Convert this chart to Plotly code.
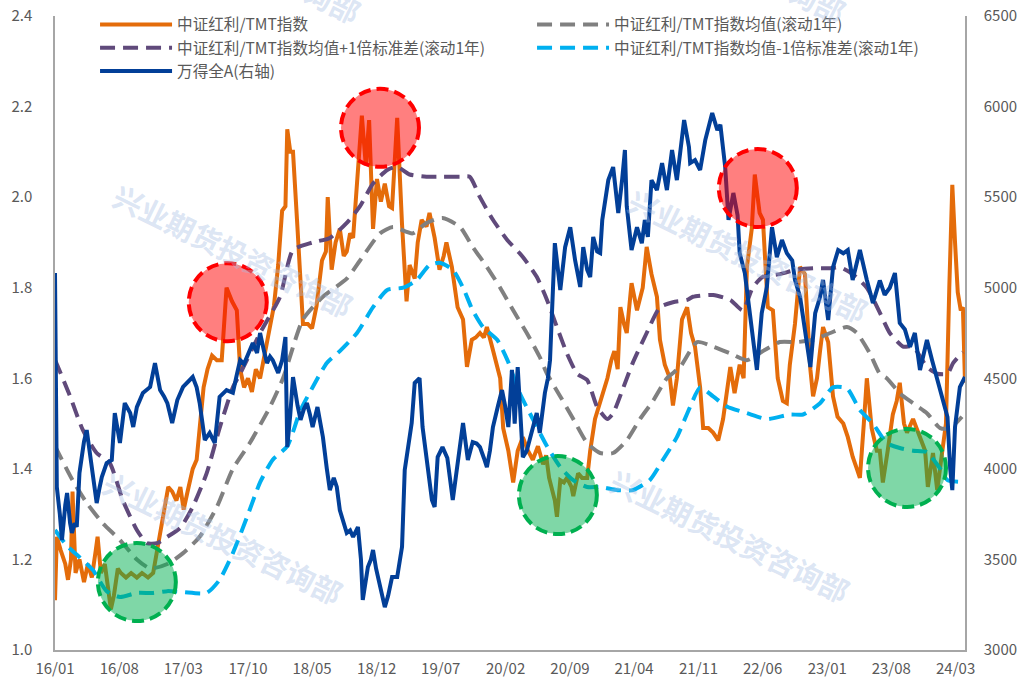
import plotly.graph_objects as go

# ---------------- data ----------------
ORANGE_DATES = ["2016-01-01","2016-01-07","2016-01-20","2016-02-04","2016-02-13","2016-02-23","2016-02-28","2016-03-09","2016-03-22","2016-04-06","2016-04-19","2016-05-02","2016-05-15","2016-05-21","2016-06-01","2016-06-14","2016-06-24","2016-07-04","2016-07-14","2016-07-27","2016-08-06","2016-08-23","2016-09-09","2016-09-28","2016-10-15","2016-11-04","2016-11-21","2016-12-04","2016-12-14","2016-12-27","2017-01-10","2017-01-23","2017-02-06","2017-02-19","2017-03-02","2017-03-15","2017-04-01","2017-04-14","2017-04-24","2017-05-07","2017-05-20","2017-06-04","2017-06-20","2017-07-06","2017-07-22","2017-08-09","2017-08-25","2017-09-05","2017-09-18","2017-10-01","2017-10-14","2017-10-27","2017-11-10","2017-11-26","2017-12-13","2017-12-26","2018-01-09","2018-01-22","2018-02-02","2018-02-08","2018-02-18","2018-02-27","2018-03-14","2018-03-24","2018-04-01","2018-04-17","2018-05-01","2018-05-16","2018-06-03","2018-06-16","2018-06-22","2018-07-05","2018-07-18","2018-08-01","2018-08-14","2018-08-24","2018-09-04","2018-09-14","2018-09-27","2018-10-13","2018-10-26","2018-11-06","2018-11-19","2018-12-02","2018-12-15","2018-12-28","2019-01-11","2019-01-21","2019-02-07","2019-02-23","2019-03-10","2019-03-20","2019-04-06","2019-04-16","2019-04-29","2019-05-15","2019-05-25","2019-06-11","2019-06-27","2019-07-11","2019-07-20","2019-08-07","2019-08-26","2019-09-13","2019-09-26","2019-10-12","2019-10-25","2019-11-08","2019-11-21","2019-12-01","2019-12-18","2020-01-04","2020-01-14","2020-01-24","2020-02-10","2020-02-26","2020-03-12","2020-03-29","2020-04-15","2020-05-01","2020-05-18","2020-06-04","2020-06-14","2020-06-24","2020-07-03","2020-07-13","2020-07-20","2020-07-31","2020-08-12","2020-08-22","2020-09-06","2020-09-12","2020-09-28","2020-10-11","2020-10-28","2020-11-07","2020-11-23","2020-12-10","2020-12-23","2021-01-03","2021-01-16","2021-01-26","2021-02-06","2021-02-15","2021-02-27","2021-03-08","2021-03-24","2021-04-11","2021-04-30","2021-05-13","2021-05-29","2021-06-16","2021-06-26","2021-07-12","2021-07-29","2021-08-08","2021-08-21","2021-09-07","2021-09-24","2021-10-07","2021-10-20","2021-10-31","2021-11-06","2021-11-16","2021-12-03","2021-12-19","2022-01-05","2022-01-21","2022-02-04","2022-02-14","2022-02-28","2022-03-17","2022-03-30","2022-04-10","2022-04-26","2022-05-06","2022-05-22","2022-06-02","2022-06-18","2022-07-05","2022-07-21","2022-08-07","2022-08-20","2022-08-30","2022-09-16","2022-10-03","2022-10-19","2022-11-06","2022-11-15","2022-11-28","2022-12-08","2022-12-18","2023-01-04","2023-01-20","2023-02-04","2023-02-23","2023-03-10","2023-03-26","2023-04-09","2023-04-19","2023-05-02","2023-05-12","2023-05-28","2023-06-14","2023-06-24","2023-07-04","2023-07-20","2023-08-06","2023-08-19","2023-08-29","2023-09-12","2023-09-22","2023-10-12","2023-10-25","2023-11-04","2023-11-21","2023-11-30","2023-12-17","2023-12-31","2024-01-16","2024-01-29","2024-02-09","2024-02-19","2024-02-28","2024-03-08","2024-03-18","2024-03-25","2024-04-01"]
ORANGE_VALUES = [1.11,1.25,1.22,1.19,1.155,1.20,1.35,1.17,1.20,1.15,1.19,1.16,1.22,1.25,1.17,1.19,1.14,1.09,1.12,1.18,1.17,1.16,1.17,1.16,1.17,1.16,1.17,1.22,1.26,1.30,1.36,1.35,1.33,1.36,1.31,1.35,1.40,1.42,1.50,1.58,1.62,1.65,1.64,1.64,1.80,1.77,1.75,1.62,1.58,1.60,1.57,1.62,1.60,1.66,1.72,1.76,1.85,1.97,1.98,2.15,2.10,2.10,1.93,1.80,1.72,1.72,1.71,1.76,1.86,1.88,2.00,1.84,1.90,1.93,1.87,1.88,1.92,1.91,2.04,2.18,2.07,2.17,1.93,2.04,1.99,2.03,1.98,1.976,2.175,1.94,1.77,1.85,1.82,1.90,1.95,1.935,1.965,1.91,1.84,1.87,1.90,1.846,1.757,1.73,1.625,1.685,1.69,1.70,1.69,1.713,1.67,1.62,1.60,1.49,1.44,1.37,1.44,1.47,1.44,1.42,1.45,1.41,1.43,1.38,1.353,1.33,1.294,1.375,1.37,1.38,1.36,1.34,1.39,1.38,1.38,1.44,1.51,1.55,1.58,1.60,1.64,1.66,1.62,1.757,1.72,1.70,1.81,1.75,1.80,1.89,1.83,1.78,1.685,1.63,1.60,1.54,1.60,1.73,1.757,1.70,1.67,1.60,1.58,1.49,1.49,1.48,1.463,1.51,1.58,1.625,1.567,1.63,1.60,1.846,1.93,2.05,1.965,1.95,1.757,1.75,1.60,1.55,1.545,1.63,1.72,1.846,1.83,1.62,1.56,1.60,1.66,1.713,1.68,1.56,1.515,1.50,1.47,1.427,1.40,1.38,1.50,1.60,1.49,1.44,1.44,1.37,1.44,1.52,1.55,1.59,1.50,1.48,1.51,1.49,1.47,1.44,1.36,1.435,1.353,1.435,1.50,1.80,2.027,1.90,1.79,1.75,1.757,1.59]

WINDA_DATES = ["2016-01-01","2016-01-07","2016-01-17","2016-01-24","2016-02-04","2016-02-10","2016-02-20","2016-02-26","2016-03-06","2016-03-13","2016-03-22","2016-04-06","2016-04-15","2016-04-25","2016-05-05","2016-05-18","2016-05-28","2016-06-04","2016-06-20","2016-07-07","2016-07-17","2016-07-27","2016-08-03","2016-08-19","2016-09-06","2016-09-16","2016-09-28","2016-10-18","2016-11-11","2016-11-27","2016-12-14","2016-12-27","2017-01-07","2017-01-23","2017-02-09","2017-02-28","2017-03-15","2017-04-01","2017-04-14","2017-04-24","2017-05-11","2017-05-27","2017-06-13","2017-06-29","2017-07-22","2017-08-12","2017-08-25","2017-09-05","2017-09-18","2017-09-28","2017-10-07","2017-10-17","2017-10-31","2017-11-10","2017-11-23","2017-12-03","2017-12-13","2017-12-22","2018-01-09","2018-01-22","2018-02-02","2018-02-08","2018-02-18","2018-02-27","2018-03-14","2018-03-24","2018-04-04","2018-04-14","2018-04-24","2018-05-03","2018-05-19","2018-06-06","2018-06-19","2018-06-29","2018-07-12","2018-07-22","2018-08-01","2018-08-14","2018-08-24","2018-09-04","2018-09-14","2018-09-30","2018-10-10","2018-10-16","2018-10-26","2018-11-02","2018-11-12","2018-11-19","2018-11-29","2018-12-05","2018-12-18","2018-12-28","2019-01-08","2019-01-21","2019-02-07","2019-02-17","2019-02-23","2019-03-04","2019-03-17","2019-03-27","2019-04-06","2019-04-22","2019-05-02","2019-05-15","2019-05-25","2019-06-02","2019-06-11","2019-06-21","2019-07-07","2019-07-23","2019-08-10","2019-08-26","2019-09-13","2019-09-29","2019-10-15","2019-10-28","2019-11-08","2019-11-21","2019-12-01","2019-12-11","2019-12-21","2020-01-07","2020-01-20","2020-01-30","2020-02-10","2020-02-22","2020-03-02","2020-03-12","2020-03-22","2020-03-29","2020-04-11","2020-04-21","2020-05-05","2020-05-14","2020-05-24","2020-06-10","2020-06-20","2020-06-27","2020-07-13","2020-07-31","2020-08-16","2020-09-02","2020-09-18","2020-10-05","2020-10-15","2020-10-28","2020-11-07","2020-11-17","2020-11-30","2020-12-10","2020-12-17","2020-12-27","2021-01-06","2021-01-22","2021-02-08","2021-02-21","2021-03-02","2021-03-08","2021-03-18","2021-03-24","2021-04-11","2021-04-27","2021-05-07","2021-05-17","2021-05-29","2021-06-16","2021-07-03","2021-07-19","2021-08-05","2021-08-21","2021-09-14","2021-09-30","2021-10-04","2021-10-20","2021-11-06","2021-11-23","2021-12-16","2022-01-02","2022-01-12","2022-01-28","2022-02-08","2022-02-24","2022-03-10","2022-03-17","2022-04-03","2022-04-19","2022-05-03","2022-05-13","2022-05-29","2022-06-15","2022-07-02","2022-07-18","2022-08-04","2022-08-20","2022-09-07","2022-09-16","2022-10-03","2022-10-19","2022-11-06","2022-11-22","2022-12-08","2022-12-18","2023-01-04","2023-01-20","2023-02-06","2023-02-23","2023-03-10","2023-03-26","2023-04-19","2023-05-12","2023-06-01","2023-06-24","2023-07-10","2023-07-27","2023-08-13","2023-08-29","2023-09-15","2023-10-02","2023-10-18","2023-11-04","2023-11-27","2023-12-14","2023-12-31","2024-01-20","2024-02-03","2024-02-12","2024-02-19","2024-02-28","2024-03-15","2024-04-01"]
WINDA_VALUES = [5081,3900,3750,3607,3800,3867,3700,3646,3700,3680,3977,4150,4214,4087,3994,3811,3900,3955,4032,4049,4308,4200,4143,4363,4308,4231,4341,4419,4452,4584,4435,4400,4363,4253,4380,4452,4480,4507,4450,4363,4159,4198,4143,4397,4435,4420,4520,4600,4580,4617,4650,4695,4640,4750,4650,4584,4620,4600,4529,4600,4728,4120,4300,4507,4350,4270,4330,4363,4300,4231,4341,4176,4000,3883,3950,3900,3773,3700,3646,3660,3624,3679,3500,3276,3400,3458,3500,3552,3450,3403,3300,3237,3300,3403,3403,3500,3569,3994,4150,4253,4474,4501,4231,4049,3900,3828,3790,4065,4120,4060,3828,4032,4253,4049,4148,4140,4120,4060,4010,4100,4231,4350,4435,4350,4231,4546,4250,4562,4200,4065,4100,4159,4250,4308,4198,4419,4500,4600,5246,4987,5224,5334,5152,5004,5224,5100,5059,5280,5200,5191,5374,5500,5594,5666,5412,5600,5760,5450,5300,5208,5334,5246,5374,5280,5594,5539,5688,5539,5760,5594,5926,5777,5688,5705,5650,5815,5964,5870,5900,5666,5374,5523,5400,5191,5081,4860,4700,4546,4860,5004,5334,5169,5263,5191,5150,5043,4949,4750,4562,4860,4949,5043,4822,5114,5208,5190,5208,5043,5208,5043,4915,5040,4960,5000,5081,4805,4770,4673,4750,4546,4711,4600,4490,4380,4286,4000,3883,4231,4452,4507]

MEAN_DATES = ["2016-01-01","2016-02-28","2016-04-15","2016-06-07","2016-08-03","2016-09-28","2016-11-11","2017-01-07","2017-02-28","2017-04-24","2017-06-20","2017-08-12","2017-10-07","2017-12-13","2018-01-25","2018-04-01","2018-06-06","2018-08-24","2018-10-07","2018-12-12","2019-01-24","2019-03-30","2019-05-15","2019-07-07","2019-09-03","2019-10-15","2019-12-01","2020-01-14","2020-02-26","2020-04-11","2020-05-24","2020-06-17","2020-07-31","2020-09-12","2020-10-28","2020-12-10","2021-01-22","2021-03-08","2021-04-21","2021-06-03","2021-07-19","2021-09-01","2021-10-27","2021-12-19","2022-02-14","2022-04-10","2022-06-02","2022-07-28","2022-09-23","2022-11-15","2023-01-11","2023-03-07","2023-04-09","2023-05-22","2023-06-24","2023-07-17","2023-08-29","2023-10-12","2023-11-27","2024-01-10","2024-02-12","2024-03-22"]
MEAN_VALUES = [1.45,1.375,1.325,1.28,1.243,1.20,1.18,1.19,1.214,1.25,1.316,1.40,1.457,1.537,1.60,1.73,1.78,1.82,1.86,1.92,1.934,1.92,1.943,1.954,1.934,1.89,1.846,1.80,1.75,1.70,1.647,1.61,1.56,1.51,1.457,1.435,1.435,1.463,1.51,1.55,1.60,1.625,1.68,1.67,1.655,1.64,1.66,1.68,1.68,1.685,1.70,1.713,1.70,1.655,1.61,1.60,1.567,1.545,1.523,1.49,1.49,1.515]

UPPER_DATES = ["2016-01-01","2016-01-11","2016-02-20","2016-04-02","2016-05-18","2016-06-30","2016-08-13","2016-09-28","2016-10-31","2016-12-04","2017-01-07","2017-02-19","2017-04-01","2017-05-17","2017-06-29","2017-08-12","2017-09-05","2017-11-10","2018-01-15","2018-02-27","2018-05-03","2018-06-29","2018-08-24","2018-10-07","2018-11-19","2019-01-05","2019-02-07","2019-03-20","2019-05-15","2019-07-07","2019-09-03","2019-10-05","2019-11-08","2019-12-21","2020-02-07","2020-03-29","2020-05-14","2020-06-17","2020-07-20","2020-08-22","2020-09-25","2020-10-28","2020-11-30","2021-01-03","2021-01-22","2021-02-25","2021-03-28","2021-05-13","2021-06-26","2021-08-08","2021-09-24","2021-10-13","2021-12-19","2022-02-14","2022-03-27","2022-04-29","2022-06-02","2022-07-28","2022-09-23","2022-11-15","2023-01-11","2023-02-13","2023-03-26","2023-05-12","2023-06-24","2023-07-27","2023-09-09","2023-10-12","2023-11-27","2023-12-31","2024-02-03","2024-02-22","2024-03-25"]
UPPER_VALUES = [1.64,1.625,1.56,1.486,1.435,1.413,1.33,1.265,1.236,1.236,1.25,1.27,1.316,1.39,1.49,1.58,1.61,1.70,1.78,1.883,1.90,1.91,1.943,1.98,2.03,2.06,2.067,2.05,2.045,2.045,2.045,2.045,2.00,1.95,1.905,1.868,1.824,1.773,1.713,1.655,1.61,1.596,1.537,1.51,1.523,1.58,1.634,1.70,1.757,1.768,1.773,1.78,1.784,1.773,1.75,1.80,1.824,1.83,1.84,1.843,1.843,1.845,1.83,1.80,1.745,1.70,1.67,1.67,1.625,1.61,1.61,1.634,1.658]

LOWER_DATES = ["2016-01-01","2016-02-10","2016-03-22","2016-05-05","2016-06-20","2016-08-03","2016-09-28","2016-11-21","2017-01-07","2017-02-28","2017-05-17","2017-06-29","2017-08-12","2017-09-28","2017-11-10","2017-12-22","2018-02-08","2018-03-24","2018-05-03","2018-06-19","2018-08-01","2018-09-27","2018-11-19","2019-01-05","2019-02-27","2019-04-13","2019-05-25","2019-06-27","2019-08-10","2019-09-13","2019-10-15","2019-11-18","2020-01-04","2020-02-07","2020-03-19","2020-05-01","2020-06-17","2020-07-31","2020-09-12","2020-10-28","2020-12-10","2021-02-06","2021-03-28","2021-05-23","2021-07-06","2021-08-21","2021-10-04","2021-11-06","2021-12-19","2022-02-04","2022-04-10","2022-06-15","2022-08-30","2022-10-13","2022-12-08","2023-01-20","2023-03-07","2023-04-19","2023-06-01","2023-07-17","2023-08-29","2023-10-12","2023-11-27","2024-01-10","2024-02-03","2024-03-25"]
LOWER_VALUES = [1.265,1.23,1.205,1.177,1.13,1.117,1.126,1.126,1.13,1.128,1.126,1.155,1.214,1.294,1.37,1.42,1.45,1.53,1.58,1.634,1.66,1.70,1.757,1.795,1.80,1.817,1.85,1.855,1.84,1.80,1.75,1.713,1.685,1.64,1.567,1.51,1.45,1.404,1.375,1.36,1.36,1.353,1.353,1.375,1.42,1.47,1.537,1.58,1.56,1.537,1.523,1.51,1.52,1.52,1.545,1.58,1.578,1.53,1.50,1.457,1.446,1.44,1.437,1.40,1.375,1.371]

# highlighted extremes (circle annotations): dates and ratio level
HIGH_DATES = ["2017-07-26", "2018-12-12", "2022-05-16"]
HIGH_LEVELS = [1.768, 2.153, 2.020]
LOW_DATES = ["2016-09-28", "2020-07-23", "2023-09-22"]
LOW_LEVELS = [1.150, 1.342, 1.402]

NAMES = ["中证红利/TMT指数", "中证红利/TMT指数均值(滚动1年)",
         "中证红利/TMT指数均值+1倍标准差(滚动1年)", "中证红利/TMT指数均值-1倍标准差(滚动1年)",
         "万得全A(右轴)"]
WATERMARK = "兴业期货投资咨询部"

# ---------------- figure ----------------
FONT = "Noto Sans CJK SC"
TXT = "#595959"
DASH = "15px,8px"

fig = go.Figure()
fig.add_trace(go.Scatter(x=ORANGE_DATES, y=ORANGE_VALUES, name=NAMES[0], mode="lines",
                         line=dict(color="#E46C0A", width=4)))
fig.add_trace(go.Scatter(x=MEAN_DATES, y=MEAN_VALUES, name=NAMES[1], mode="lines",
                         line=dict(color="#808080", width=4, dash=DASH, shape="spline", smoothing=0.6)))
fig.add_trace(go.Scatter(x=UPPER_DATES, y=UPPER_VALUES, name=NAMES[2], mode="lines",
                         line=dict(color="#604A7B", width=4, dash=DASH, shape="spline", smoothing=0.6)))
fig.add_trace(go.Scatter(x=LOWER_DATES, y=LOWER_VALUES, name=NAMES[3], mode="lines",
                         line=dict(color="#00B0F0", width=4, dash=DASH, shape="spline", smoothing=0.6)))
fig.add_trace(go.Scatter(x=WINDA_DATES, y=WINDA_VALUES, name=NAMES[4], mode="lines", yaxis="y2",
                         line=dict(color="#023F98", width=4)))

R = 39
for d, v in zip(HIGH_DATES, HIGH_LEVELS):
    fig.add_shape(type="circle", xref="x", yref="y", xsizemode="pixel", ysizemode="pixel",
                  xanchor=d, yanchor=v, x0=-R, x1=R, y0=-R, y1=R, layer="above",
                  fillcolor="rgba(255,0,0,0.5)", line=dict(color="#FF0000", width=4, dash="12px,6px"))
for d, v in zip(LOW_DATES, LOW_LEVELS):
    fig.add_shape(type="circle", xref="x", yref="y", xsizemode="pixel", ysizemode="pixel",
                  xanchor=d, yanchor=v, x0=-R, x1=R, y0=-R, y1=R, layer="above",
                  fillcolor="rgba(0,176,80,0.5)", line=dict(color="#00B050", width=4, dash="12px,6px"))

# watermarks (tiled; the top row is partly cut off by the page edge, as in the source)
for wx, wy in [(0.196, 0.631), (0.185, 0.178), (0.742, 0.181), (0.762, 0.623), (0.205, 1.095), (0.738, 1.095)]:
    fig.add_annotation(x=wx, y=wy, xref="paper", yref="paper", xanchor="center", yanchor="middle",
                       text="<b>" + WATERMARK + "</b>", showarrow=False, textangle=26,
                       font=dict(family=FONT, size=29, color="rgba(165,190,228,0.40)"))

axis_common = dict(showgrid=False, zeroline=False, showline=True, linecolor="#A6A6A6", linewidth=1.5,
                   ticks="", tickfont=dict(family=FONT, size=15, color=TXT))
fig.update_layout(
    width=1023, height=683,
    margin=dict(l=55, r=58, t=16, b=33, autoexpand=False),
    paper_bgcolor="white", plot_bgcolor="white",
    font=dict(family=FONT, color=TXT),
    xaxis=dict(type="date", range=["2016-01-01", "2024-04-01"], tickformat="%y/%m",
               dtick="M7", tick0="2016-01-01", ticklabelstandoff=4, **axis_common),
    yaxis=dict(range=[1.0, 2.4], dtick=0.2, tickformat=".1f", ticklabelstandoff=18, **axis_common),
    yaxis2=dict(range=[3000, 6500], dtick=500, overlaying="y", side="right", ticklabelstandoff=14,
                **axis_common),
    legend=dict(orientation="h", x=0.044, y=1.013, xanchor="left", yanchor="top",
                entrywidth=350, itemwidth=72, bgcolor="rgba(0,0,0,0)", tracegroupgap=0,
                font=dict(family=FONT, size=15.6, color=TXT)),
    showlegend=True,
)

fig.write_html("out.html", config={"displayModeBar": False},
               post_script="document.body.style.margin='0';")
